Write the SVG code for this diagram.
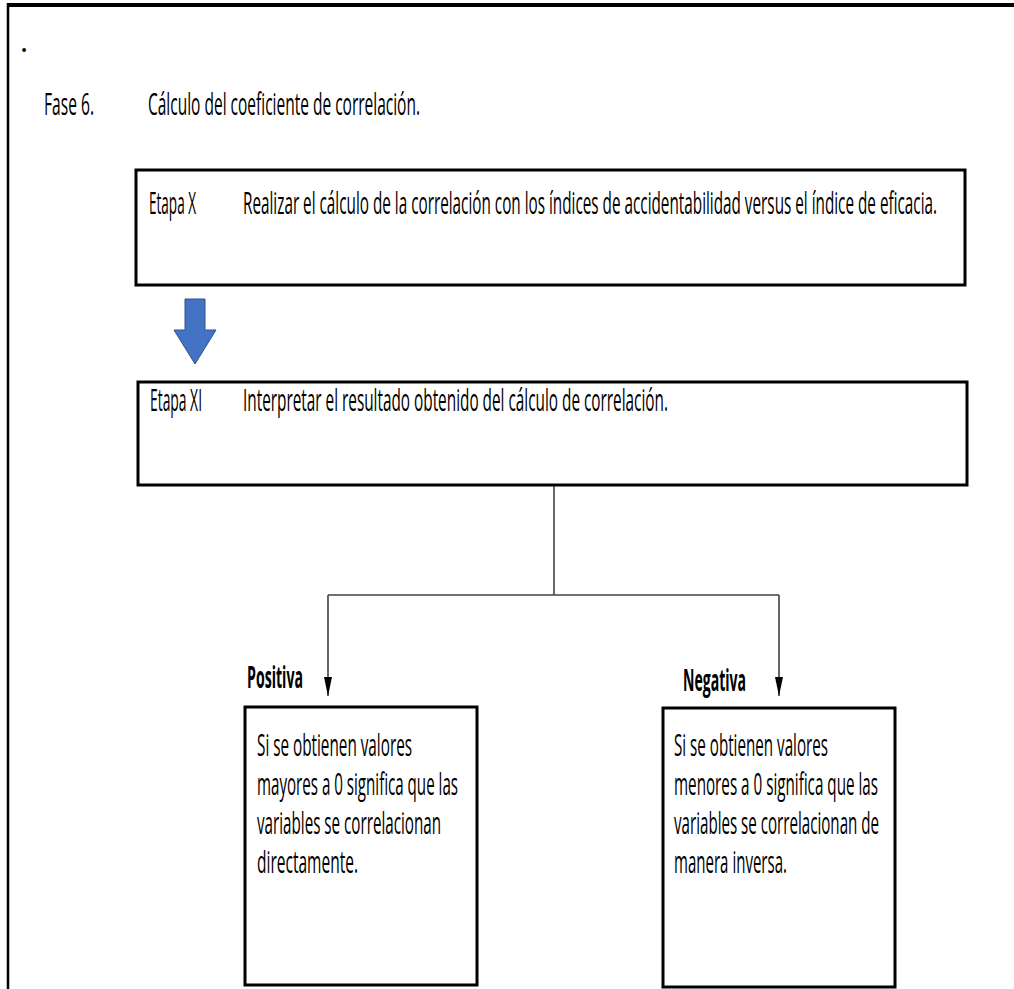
<svg xmlns="http://www.w3.org/2000/svg" width="1014" height="989" viewBox="0 0 1014 989">
<defs>
<marker id="ah" viewBox="0 -4 19 8" refX="19" refY="0" markerWidth="19" markerHeight="8" markerUnits="userSpaceOnUse" orient="auto">
<path d="M0,-4 L19,0 L0,4 z" fill="#000"/>
</marker>
</defs>
<style>
.t{font-family:"Open Sans","Noto Sans","Liberation Sans",sans-serif;font-size:31px;fill:#000}
.b{font-weight:bold}
.box{fill:#fff;stroke:#000;stroke-width:3}
.ln{fill:none;stroke:#404040;stroke-width:1.6}
</style>
<rect x="0" y="0" width="1014" height="989" fill="#fff"/>
<g id="frame">
<line x1="7" y1="5" x2="1014" y2="5" stroke="#000" stroke-width="4"/>
<line x1="8" y1="3" x2="8" y2="989" stroke="#000" stroke-width="2.5"/>
</g>
<g id="header">
<text class="t" x="20" y="52" font-size="24">.</text>
<text class="t" x="44" y="115" textLength="50" lengthAdjust="spacingAndGlyphs">Fase 6.</text>
<text class="t" x="148" y="115" textLength="272" lengthAdjust="spacingAndGlyphs">Cálculo del coeficiente de correlación.</text>
</g>
<g id="etapa-x">
<rect class="box" x="136" y="170" width="829" height="115"/>
<text class="t" x="149" y="214" textLength="47" lengthAdjust="spacingAndGlyphs">Etapa X</text>
<text class="t" x="243" y="214" textLength="694" lengthAdjust="spacingAndGlyphs">Realizar el cálculo de la correlación con los índices de accidentabilidad versus el índice de eficacia.</text>
</g>
<g id="block-arrow">
<path d="M185,299 L205,299 L205,330 L216,330 L195,364 L174,330 L185,330 z" fill="#4472C4" stroke="#2F528F" stroke-width="1"/>
</g>
<g id="etapa-xi">
<rect class="box" x="138" y="382" width="829" height="103"/>
<text class="t" x="150" y="411" textLength="52" lengthAdjust="spacingAndGlyphs">Etapa XI</text>
<text class="t" x="243" y="411" textLength="425" lengthAdjust="spacingAndGlyphs">Interpretar el resultado obtenido del cálculo de correlación.</text>
</g>
<g id="connectors">
<line class="ln" x1="554" y1="486" x2="554" y2="595"/>
<line class="ln" x1="328" y1="595" x2="779" y2="595"/>
<line class="ln" x1="328" y1="595" x2="328" y2="696" marker-end="url(#ah)"/>
<line class="ln" x1="779" y1="595" x2="779" y2="696" marker-end="url(#ah)"/>
</g>
<g id="positiva">
<text class="t b" x="247" y="688" textLength="56" lengthAdjust="spacingAndGlyphs">Positiva</text>
<rect class="box" x="245" y="707" width="232" height="278"/>
<text class="t" x="257" y="756" textLength="155" lengthAdjust="spacingAndGlyphs">Si se obtienen valores</text>
<text class="t" x="257" y="795" textLength="201" lengthAdjust="spacingAndGlyphs">mayores a 0 significa que las</text>
<text class="t" x="257" y="834" textLength="184" lengthAdjust="spacingAndGlyphs">variables se correlacionan</text>
<text class="t" x="257" y="873" textLength="101" lengthAdjust="spacingAndGlyphs">directamente.</text>
</g>
<g id="negativa">
<text class="t b" x="683" y="691" textLength="63" lengthAdjust="spacingAndGlyphs">Negativa</text>
<rect class="box" x="663" y="708" width="232" height="279"/>
<text class="t" x="674" y="756" textLength="154" lengthAdjust="spacingAndGlyphs">Si se obtienen valores</text>
<text class="t" x="674" y="795" textLength="204" lengthAdjust="spacingAndGlyphs">menores a 0 significa que las</text>
<text class="t" x="674" y="834" textLength="205" lengthAdjust="spacingAndGlyphs">variables se correlacionan de</text>
<text class="t" x="674" y="873" textLength="113" lengthAdjust="spacingAndGlyphs">manera inversa.</text>
</g>
</svg>
